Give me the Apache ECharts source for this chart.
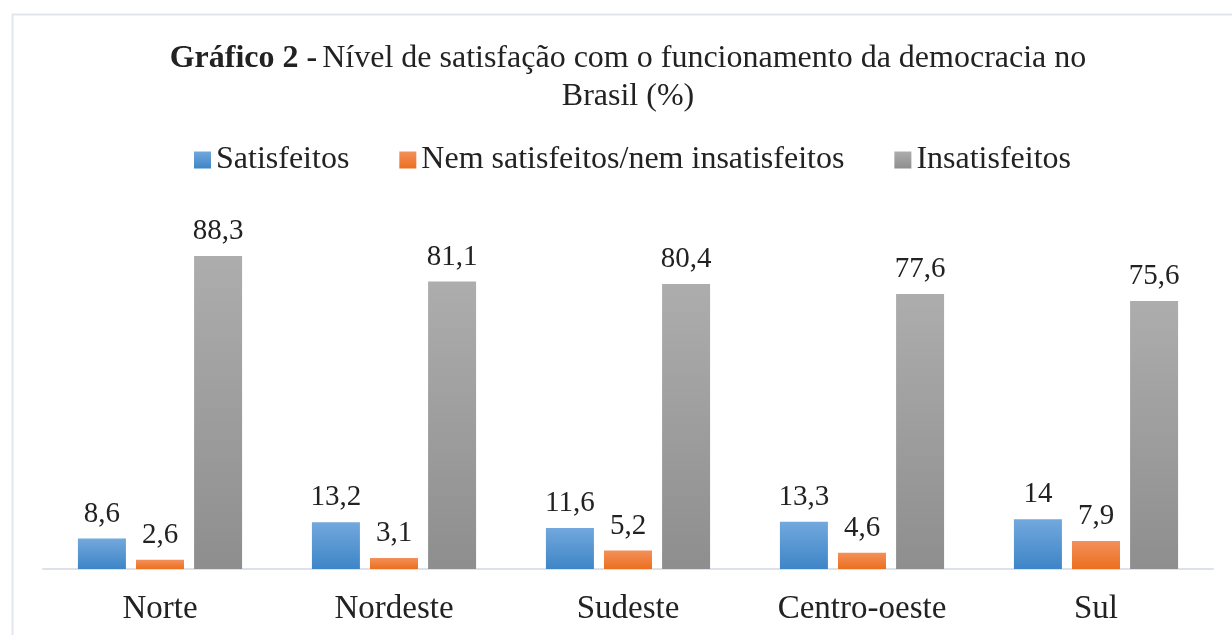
<!DOCTYPE html>
<html>
<head>
<meta charset="utf-8">
<script src="https://cdn.jsdelivr.net/npm/echarts@6/dist/echarts.min.js"></script>
<style>
html,body{margin:0;padding:0;background:#fff;}
#c{width:1232px;height:635px;}
</style>
</head>
<body>
<div id="c"></div>
<script>
const categories = ['Norte', 'Nordeste', 'Sudeste', 'Centro-oeste', 'Sul'];
const seriesNames = ['Satisfeitos', 'Nem satisfeitos/nem insatisfeitos', 'Insatisfeitos'];
const satisfeitos = [8.6, 13.2, 11.6, 13.3, 14];
const nemNem = [2.6, 3.1, 5.2, 4.6, 7.9];
const insatisfeitos = [88.3, 81.1, 80.4, 77.6, 75.6];

const FONT = '"Liberation Serif", "Times New Roman", serif';
function grad(top, bottom) {
  return new echarts.graphic.LinearGradient(0, 0, 0, 1, [
    {offset: 0, color: top}, {offset: 1, color: bottom}
  ]);
}
const colors = [grad('#72a8dd', '#3e85c7'), grad('#f3905a', '#ec6f1f'), grad('#adadad', '#8e8e8e')];
const fmt = p => String(p.value).replace('.', ',');

function mk(name, data, i) {
  return {
    name: name,
    type: 'bar',
    data: data,
    barWidth: 48,
    barGap: '21%',
    itemStyle: {color: colors[i]},
    label: {
      show: true, position: 'top', distance: 10,
      formatter: fmt,
      fontFamily: FONT, fontSize: 29, color: '#222'
    }
  };
}

const chart = echarts.init(document.getElementById('c'), null, {renderer: 'canvas'});
chart.setOption({
  animation: false,
  backgroundColor: '#fff',
  graphic: [{
    type: 'rect', left: 10, top: 12, silent: true,
    shape: {x: 0, y: 0, width: 1260, height: 640},
    style: {fill: 'none', stroke: '#e1e5ec', lineWidth: 2}
  }],
  title: {
    text: '{b|Gráfico 2 -} {n|Nível de satisfação com o funcionamento da democracia no}\n{n|Brasil (%)}',
    left: 623, top: 35, textAlign: 'center',
    textStyle: {
      fontWeight: 'normal',
      rich: {
        b: {fontFamily: FONT, fontSize: 32, fontWeight: 'bold', color: '#222', lineHeight: 38},
        n: {fontFamily: FONT, fontSize: 32, fontWeight: 'normal', color: '#222', lineHeight: 38}
      }
    }
  },
  legend: {
    data: seriesNames,
    top: 139, left: 189,
    itemWidth: 17, itemHeight: 17, itemGap: 50,
    icon: 'rect',
    textStyle: {fontFamily: FONT, fontSize: 32, color: '#222'}
  },
  grid: {left: 43, right: 19, top: 214.5, bottom: 66, containLabel: false},
  xAxis: {
    type: 'category', data: categories,
    axisLine: {lineStyle: {color: '#dde2ea', width: 2}},
    axisTick: {show: false},
    axisLabel: {fontFamily: FONT, fontSize: 33, color: '#222', margin: 24}
  },
  yAxis: {type: 'value', min: 0, max: 100, show: false, splitLine: {show: false}},
  series: [mk(seriesNames[0], satisfeitos, 0), mk(seriesNames[1], nemNem, 1), mk(seriesNames[2], insatisfeitos, 2)]
});
</script>
</body>
</html>
